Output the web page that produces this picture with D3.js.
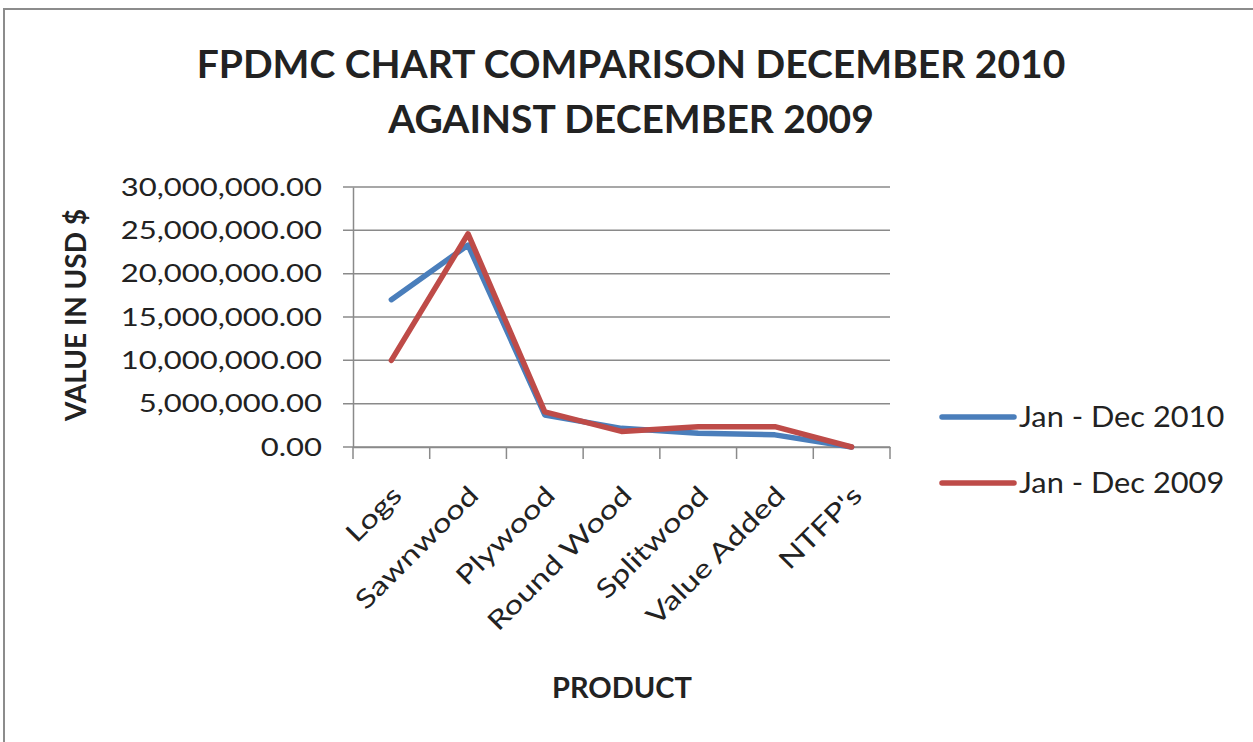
<!DOCTYPE html>
<html>
<head>
<meta charset="utf-8">
<script src="https://cdn.jsdelivr.net/npm/d3@7"></script>
<style>
  body { margin: 0; background: #fff; }
  text { font-family: Lato, "Open Sans", sans-serif; fill: #222; }
</style>
</head>
<body>
<div id="chart"></div>
<script>
// Data
const products = ["Logs", "Sawnwood", "Plywood", "Round Wood", "Splitwood", "Value Added", "NTFP's"];
const values2010 = [17000000, 23300000, 3700000, 2150000, 1600000, 1400000, 0];
const values2009 = [10000000, 24600000, 4050000, 1800000, 2350000, 2350000, 0];
const seriesNames = ["Jan - Dec 2010", "Jan - Dec 2009"];
const seriesColors = ["#4A7EBB", "#BE4B48"];
const yTicks = [0, 5000000, 10000000, 15000000, 20000000, 25000000, 30000000];

const W = 1253, H = 742;
const margin = { top: 187, left: 353, right: 363, bottom: 295 };
const width = W - margin.left - margin.right;
const height = H - margin.top - margin.bottom;

// widen text glyphs (the source looks horizontally stretched)
function stretch(sel, k) {
  sel.each(function() {
    const len = this.getComputedTextLength();
    this.setAttribute("textLength", len * k);
    this.setAttribute("lengthAdjust", "spacingAndGlyphs");
  });
}

const svg = d3.select("#chart").append("svg")
  .attr("width", W)
  .attr("height", H);

// chart border
svg.append("rect")
  .attr("x", 4).attr("y", 9)
  .attr("width", W + 10).attr("height", H + 10)
  .attr("fill", "#fff")
  .attr("stroke", "#8c8c8c")
  .attr("stroke-width", 2);

const g = svg.append("g")
  .attr("transform", `translate(${margin.left},${margin.top})`);

// scales
const x = d3.scaleBand().domain(products).range([0, width]);
const y = d3.scaleLinear().domain([0, 30000000]).range([height, 0]);

// gridlines
g.append("g")
  .selectAll("line")
  .data(yTicks)
  .join("line")
  .attr("x1", -10).attr("x2", width)
  .attr("y1", d => y(d)).attr("y2", d => y(d))
  .attr("stroke", "#8a8a8a")
  .attr("stroke-width", 1.5);

// y axis
const yAxis = g.append("g")
  .call(d3.axisLeft(y).tickValues(yTicks).tickSize(0).tickPadding(31)
    .tickFormat(d => d3.format(",.2f")(d)));
yAxis.select(".domain").attr("stroke", "#8a8a8a").attr("stroke-width", 1.5);
yAxis.selectAll("text").attr("font-size", 25).attr("fill", "#222");
stretch(yAxis.selectAll("text"), 1.24);

// x axis
const xAxis = g.append("g")
  .attr("transform", `translate(0,${height})`)
  .call(d3.axisBottom(x).tickSize(0).tickFormat(""));
xAxis.select(".domain").attr("stroke", "#8a8a8a").attr("stroke-width", 1.5);

// category boundary ticks
const bounds = products.map(p => x(p)).concat([width]);
g.append("g")
  .selectAll("line")
  .data(bounds)
  .join("line")
  .attr("x1", d => d).attr("x2", d => d)
  .attr("y1", height).attr("y2", height + 12)
  .attr("stroke", "#8a8a8a")
  .attr("stroke-width", 1.5);

// rotated category labels
const xLabels = g.append("g")
  .selectAll("text")
  .data(products)
  .join("text")
  .attr("transform", d => `translate(${x(d) + x.bandwidth() / 2 + 12},${height + 50}) rotate(-45)`)
  .attr("text-anchor", "end")
  .attr("font-size", 26)
  .text(d => d);
stretch(xLabels, 1.28);

// lines
const line = d3.line()
  .x((d, i) => x(products[i]) + x.bandwidth() / 2)
  .y(d => y(d));

[values2010, values2009].forEach((vals, i) => {
  g.append("path")
    .datum(vals)
    .attr("fill", "none")
    .attr("stroke", seriesColors[i])
    .attr("stroke-width", 5.5)
    .attr("stroke-linejoin", "round")
    .attr("stroke-linecap", "round")
    .attr("d", line);
});

// title
svg.append("text")
  .attr("x", 631).attr("y", 78)
  .attr("text-anchor", "middle")
  .attr("font-size", 39).attr("font-weight", "bold")
  .text("FPDMC CHART COMPARISON DECEMBER 2010");
svg.append("text")
  .attr("x", 631).attr("y", 133)
  .attr("text-anchor", "middle")
  .attr("font-size", 39).attr("font-weight", "bold")
  .text("AGAINST DECEMBER 2009");

// y axis title
svg.append("text")
  .attr("transform", "translate(86,315) rotate(-90)")
  .attr("text-anchor", "middle")
  .attr("font-size", 28).attr("font-weight", "bold")
  .text("VALUE IN USD $");

// x axis title
svg.append("text")
  .attr("x", 622).attr("y", 698)
  .attr("text-anchor", "middle")
  .attr("font-size", 29).attr("font-weight", "bold")
  .text("PRODUCT");

// legend
const legend = svg.append("g").attr("transform", "translate(942,417)");
seriesNames.forEach((name, i) => {
  const row = legend.append("g").attr("transform", `translate(0,${i * 66})`);
  row.append("line")
    .attr("x1", 0).attr("x2", 72)
    .attr("stroke", seriesColors[i])
    .attr("stroke-width", 5.5)
    .attr("stroke-linecap", "round");
  const t = row.append("text")
    .attr("x", 77).attr("y", 10)
    .attr("font-size", 29)
    .text(name);
  stretch(t, 1.06);
});
</script>
</body>
</html>
